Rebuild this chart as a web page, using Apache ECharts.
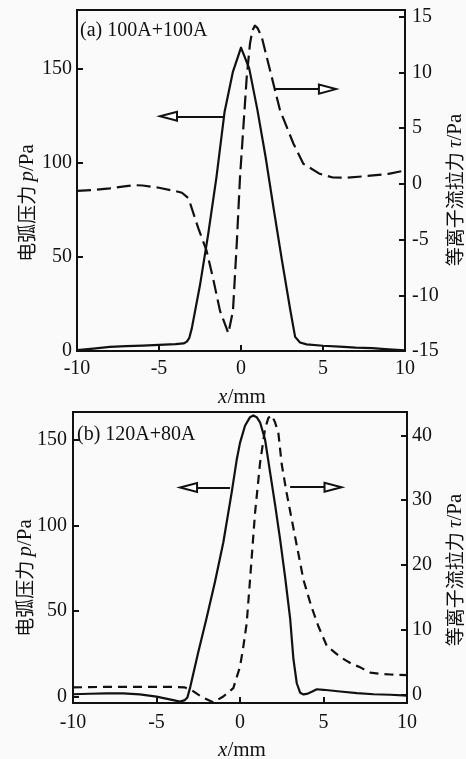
<!DOCTYPE html>
<html><head><meta charset="utf-8">
<script src="https://cdn.jsdelivr.net/npm/echarts@6/dist/echarts.min.js"></script>
<style>html,body{margin:0;padding:0;background:#fafafa}#c{width:466px;height:759px}</style>
</head><body><div id="c"></div>
<script>
// ---------- Panel (a) 100A+100A ----------
const titleA = '(a) 100A+100A';
const pAx = [-10,-9,-8,-7,-6,-5,-4,-3.5,-3.3,-3.15,-3,-2.5,-2,-1.5,-1,-0.5,0,0.5,1,1.5,2,2.5,3,3.3,3.6,4,5,6,7,8,9,10];
const pAy = [0.5,1.3,2.2,2.6,2.9,3.2,3.6,4,5,7,12,35,62,92,127,148,161,150,128,103,75,48,22,7.5,4.5,3.5,2.8,2.3,1.8,1.5,0.9,0.3];
const tAx = [-10,-9,-8,-7,-6.5,-6,-5,-4,-3.6,-3.2,-2.6,-2.1,-1.7,-1.28,-0.77,-0.49,-0.26,-0.06,0.14,0.35,0.55,0.7,0.85,1.0,1.26,1.77,2.38,3.2,3.8,4.8,5.6,6.5,7.66,9,10];
const tAy = [-0.63,-0.55,-0.4,-0.2,-0.12,-0.15,-0.35,-0.65,-0.8,-1.3,-4,-6,-8.5,-11.4,-13.4,-11.4,-5.4,0.6,5,9.6,12.6,13.8,14.2,14.0,13.2,10.2,6.6,3.6,1.8,0.9,0.57,0.55,0.7,0.9,1.2];
// arrows (a): [xStart, xEnd, level]
const arrowPA = [-1.08, -4.42, 124.6];
const arrowTA = [2.07, 5.27, 8.5];

// ---------- Panel (b) 120A+80A ----------
const titleB = '(b) 120A+80A';
const pBx = [-10,-9,-8,-7,-6,-5,-4.5,-4,-3.6,-3.3,-3.15,-3,-2.5,-2,-1.5,-1,-0.5,-0.2,0,0.3,0.6,0.8,1,1.2,1.5,1.8,2.1,2.4,2.7,3.0,3.2,3.4,3.6,3.8,4,4.3,4.6,5,6,7,8,9,10];
const pBy = [1.6,1.9,2.1,2.1,1.5,0.2,-0.8,-1.8,-2.7,-1.8,-0.3,5,26,46,67,90,119,138,148,158,163,164,163,160,150,131,112,92,70,46,22,8,2.5,1.5,1.8,3,4.5,4.2,3.2,2.2,1.6,1.3,0.8];
const tBx = [-10,-8,-6,-4,-3.3,-2.9,-2.5,-2.2,-1.6,-1.0,-0.4,0,0.2,0.4,0.6,0.9,1.2,1.5,1.7,1.9,2.1,2.3,2.5,2.8,3.1,3.8,4.27,4.7,5.2,6,6.65,7.2,7.8,8.4,9,10];
const tBy = [1.1,1.2,1.2,1.2,1.1,0.7,0.0,-0.5,-1.2,-0.3,1.0,4.3,7.4,11,17.7,28,35.7,41,42.7,43.1,42,40.3,35.5,31,27,17.7,13.6,10.5,7.5,5.8,4.8,4.2,3.4,3.2,3.1,3.0];
const arrowPB = [-0.6, -3.08, 122];
const arrowTB = [3.0, 5.57, 32];

// axis labels
const xName = ['x', '/mm'];
const pName = ['电弧压力 ', 'p', '/Pa'];
const tName = ['等离子流拉力 ', 'τ', '/Pa'];

const zip = (a, b) => a.map((v, i) => [v, b[i]]);
const INK = '#111';
const SERIF = 'Liberation Serif';
const CJK = 'Noto Sans CJK SC';

function xAxisCfg(gi, margin) {
  return {
    type: 'value', gridIndex: gi, min: -10, max: 10, interval: 5,
    axisLine: { onZero: false, lineStyle: { color: INK, width: 2 } },
    axisTick: { inside: true, length: 6, lineStyle: { color: INK, width: 2 } },
    axisLabel: { margin: margin, color: INK, fontFamily: SERIF, fontSize: 20 },
    splitLine: { show: false }
  };
}
function yAxisCfg(gi, pos, min, max, step, margin, useInterval, splitNumber) {
  const c = {
    type: 'value', gridIndex: gi, position: pos, min: min, max: max,
    axisLine: { show: true, onZero: false, lineStyle: { color: INK, width: 2 } },
    axisTick: { show: true, inside: true, length: 6, lineStyle: { color: INK, width: 2 } },
    axisLabel: {
      margin: margin, color: INK, fontFamily: SERIF, fontSize: 20,
      showMaxLabel: false,
      formatter: v => (Math.abs(v / step - Math.round(v / step)) < 1e-6 ? String(Math.round(v)) : '')
    },
    splitLine: { show: false }
  };
  if (useInterval) c.interval = step; else c.splitNumber = splitNumber;
  return c;
}
function arrow(a) {
  return {
    silent: true, animation: false,
    symbol: ['none', 'emptyTriangle'], symbolSize: [9, 17],
    lineStyle: { type: 'solid', color: INK, width: 1.8 },
    label: { show: false }, emphasis: { disabled: true },
    data: [[{ coord: [a[0], a[2]] }, { coord: [a[1], a[2]] }]]
  };
}
function lineSeries(xi, yi, xs, ys, dashed, dash, mark) {
  const s = {
    type: 'line', xAxisIndex: xi, yAxisIndex: yi, data: zip(xs, ys),
    showSymbol: false, smooth: false, silent: true,
    lineStyle: { color: INK, width: 2.2, type: dashed ? dash : 'solid', join: 'round', cap: 'butt' },
    z: 3
  };
  if (mark) s.markLine = mark;
  return s;
}
const rich = {
  c: { fontFamily: CJK, fontSize: 19, fill: INK, color: INK },
  i: { fontFamily: SERIF, fontStyle: 'italic', fontSize: 21, fill: INK, color: INK },
  r: { fontFamily: SERIF, fontSize: 21, fill: INK, color: INK }
};
function nameText(x, y, parts, rot) {
  const txt = parts.length === 3
    ? '{c|' + parts[0] + '}{i|' + parts[1] + '}{r|' + parts[2] + '}'
    : '{i|' + parts[0] + '}{r|' + parts[1] + '}';
  return {
    type: 'text', x: x, y: y, rotation: rot ? Math.PI / 2 : 0, silent: true,
    style: { text: txt, rich: rich, align: 'center', verticalAlign: 'middle', fill: INK }
  };
}
function titleText(x, y, t) {
  return {
    type: 'text', x: x, y: y, silent: true,
    style: { text: t, font: '20px "Liberation Serif"', fontFamily: SERIF, fontSize: 20,
             align: 'left', verticalAlign: 'middle', fill: INK }
  };
}

const chart = echarts.init(document.getElementById('c'), null, { renderer: 'canvas' });
chart.setOption({
  animation: false,
  backgroundColor: '#fafafa',
  textStyle: { fontFamily: SERIF, color: INK },
  grid: [
    { left: 77, right: 61, top: 10, height: 341, show: true, borderColor: INK, borderWidth: 2, backgroundColor: 'transparent' },
    { left: 73, right: 59, top: 412, height: 291, show: true, borderColor: INK, borderWidth: 2, backgroundColor: 'transparent' }
  ],
  xAxis: [xAxisCfg(0, 8), xAxisCfg(1, 10)],
  yAxis: [
    yAxisCfg(0, 'left', 0, 181, 50, 5, true),
    yAxisCfg(0, 'right', -15, 15.6, 5, 7, true),
    yAxisCfg(1, 'left', -3.5, 166, 50, 6, false, 4),
    yAxisCfg(1, 'right', -1.3, 43.6, 10, 5, false, 4)
  ],
  series: [
    lineSeries(0, 0, pAx, pAy, false, null, arrow(arrowPA)),
    lineSeries(0, 1, tAx, tAy, true, [14, 6], arrow(arrowTA)),
    lineSeries(1, 2, pBx, pBy, false, null, arrow(arrowPB)),
    lineSeries(1, 3, tBx, tBy, true, [9, 6], arrow(arrowTB))
  ],
  graphic: [
    titleText(80, 31, titleA),
    titleText(77, 435, titleB),
    nameText(27, 203, pName, true),
    nameText(455, 190, tName, true),
    nameText(242, 397, xName, false),
    nameText(25, 578, pName, true),
    nameText(455, 570, tName, true),
    nameText(242, 750, xName, false)
  ]
});
</script>
</body></html>
